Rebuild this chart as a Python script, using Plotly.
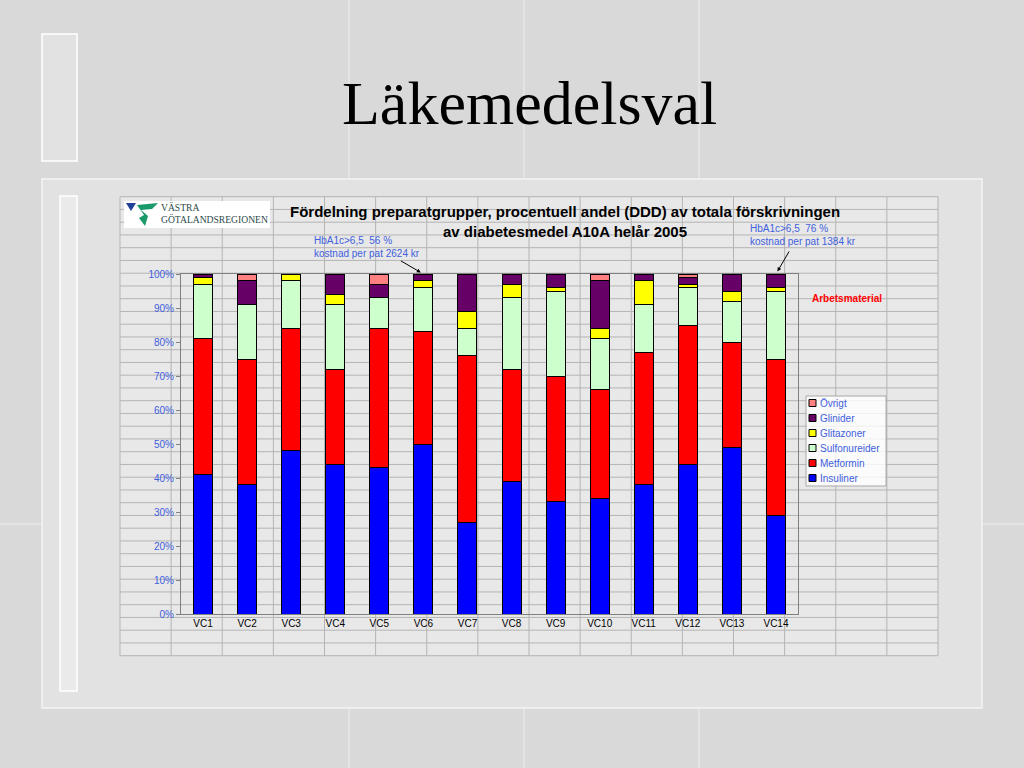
import plotly.graph_objects as go

# Vårdcentraler och andel (%) per preparatgrupp
vardcentraler = ['VC1', 'VC2', 'VC3', 'VC4', 'VC5', 'VC6', 'VC7',
                 'VC8', 'VC9', 'VC10', 'VC11', 'VC12', 'VC13', 'VC14']
insuliner     = [41, 38, 48, 44, 43, 50, 27, 39, 33, 34, 38, 44, 49, 29]
metformin     = [40, 37, 36, 28, 41, 33, 49, 33, 37, 32, 39, 41, 31, 46]
sulfonureider = [16, 16, 14, 19,  9, 13,  8, 21, 25, 15, 14, 11, 12, 20]
glitazoner    = [ 2,  0,  2,  3,  0,  2,  5,  4,  1,  3,  7,  1,  3,  1]
glinider      = [ 1,  7,  0,  6,  4,  2, 11,  3,  4, 14,  2,  2,  5,  4]
ovrigt        = [ 0,  2,  0,  0,  3,  0,  0,  0,  0,  2,  0,  1,  0,  0]

serier = [
    ('Insuliner', insuliner, '#0000ff'),
    ('Metformin', metformin, '#ff0000'),
    ('Sulfonureider', sulfonureider, '#ccffcc'),
    ('Glitazoner', glitazoner, '#ffff00'),
    ('Glinider', glinider, '#660066'),
    ('Övrigt', ovrigt, '#ff8080'),
]

# plotytans placering i pixlar
L, R, T, B = 181, 798, 274, 614
W, H = 1024, 768
BLA = '#3f60dd'


def px(x):
    return (x - L) / (R - L)


def py(y):
    return (B - y) / (B - T)


fig = go.Figure()
for namn, varden, farg in serier:
    fig.add_trace(go.Bar(
        x=vardcentraler, y=[v / 100 for v in varden], name=namn,
        marker=dict(color=farg, line=dict(color='#000000', width=1)),
    ))


def rect(x0, y0, x1, y1, fill, line_color=None, lw=0):
    return dict(type='rect', xref='paper', yref='paper', x0=px(x0), x1=px(x1),
                y0=py(y0), y1=py(y1), fillcolor=fill,
                line=dict(color=line_color or fill, width=lw), layer='below')


def line(x0, y0, x1, y1, color, lw=1):
    return dict(type='line', xref='paper', yref='paper', x0=px(x0), x1=px(x1),
                y0=py(y0), y1=py(y1), line=dict(color=color, width=lw), layer='below')


shapes = []
# marmorplattornas skarvar
for sx in [349, 524, 699]:
    shapes.append(line(sx, 0, sx, H, 'rgba(255,255,255,0.55)'))
shapes.append(line(0, 524, W, 524, 'rgba(255,255,255,0.55)'))
# ramar till vänster och runt diagrammet
shapes.append(rect(42, 34, 77, 161, 'rgba(235,235,235,0.5)', '#ffffff', 1.5))
shapes.append(rect(42, 179, 982, 708, '#e2e2e2', '#f4f4f4', 1.5))
shapes.append(rect(60, 196, 77, 691, 'rgba(240,240,240,0.6)', '#ffffff', 1.5))
# kalkylbladets rutnät
gx0, gx1, gy0, gy1 = 120, 938, 196.7, 655.7
shapes.append(rect(gx0, gy0, gx1, gy1, '#e8e8e8'))
for i in range(17):
    x = gx0 + (gx1 - gx0) * i / 16
    shapes.append(line(x, gy0, x, gy1, '#b4b4b4'))
for j in range(37):
    y = gy0 + (gy1 - gy0) * j / 36
    shapes.append(line(gx0, y, gx1, y, '#b4b4b4'))
# logotyp
shapes.append(rect(124, 201, 270, 228, '#ffffff'))
shapes.append(dict(type='path', xref='paper', yref='paper',
                   path=f'M {px(126)},{py(203)} L {px(136)},{py(203)} L {px(131)},{py(211)} Z',
                   fillcolor='#1f3f99', line=dict(width=0), layer='below'))
shapes.append(dict(type='path', xref='paper', yref='paper',
                   path=(f'M {px(137)},{py(205)} L {px(158)},{py(203)} L {px(152)},{py(209)} '
                         f'L {px(141)},{py(210)} L {px(148)},{py(216)} L {px(145)},{py(226)} '
                         f'L {px(139)},{py(218)} L {px(144)},{py(215)} Z'),
                   fillcolor='#1a9a6a', line=dict(width=0), layer='below'))

annotations = [
    dict(text='Läkemedelsval', x=px(529), y=py(103),
         font=dict(family='Liberation Serif', size=62, color='#000000')),
    dict(text='<b>Fördelning preparatgrupper, procentuell andel (DDD) av totala förskrivningen'
              '<br>av diabetesmedel A10A helår 2005</b>',
         x=px(565), y=py(221), font=dict(family='Liberation Sans', size=15, color='#000000')),
    dict(text='VÄSTRA<br>GÖTALANDSREGIONEN', x=px(159), y=py(213),
         xanchor='left', align='left',
         font=dict(family='Liberation Serif', size=9.6, color='#2b4a4a')),
    dict(text='HbA1c>6,5  56 %<br>kostnad per pat 2624 kr', x=px(312), y=py(247),
         xanchor='left', align='left', font=dict(family='Liberation Sans', size=10, color=BLA)),
    dict(text='HbA1c>6,5  76 %<br>kostnad per pat 1384 kr', x=px(748), y=py(235),
         xanchor='left', align='left', font=dict(family='Liberation Sans', size=10, color=BLA)),
    dict(text='<b>Arbetsmaterial</b>', x=px(847), y=py(298),
         font=dict(family='Liberation Sans', size=10, color='#ff0000')),
]
for a in annotations:
    a.update(xref='paper', yref='paper', showarrow=False, yanchor='middle')
    a.setdefault('xanchor', 'center')

# pilar mot VC6 och VC14
for vc, ax, ay in [('VC6', -24, -14), ('VC14', 14, -24)]:
    annotations.append(dict(text='', x=vc, y=1.0, xref='x', yref='y', ax=ax, ay=ay,
                            showarrow=True, arrowhead=2, arrowsize=0.8, standoff=3,
                            arrowwidth=1, arrowcolor='#000000'))

# teckenförklaring
lx0, ly0 = 806, 396
shapes.append(dict(type='rect', xref='paper', yref='paper', x0=px(lx0), x1=px(886),
                   y0=py(ly0), y1=py(486), fillcolor='rgba(255,255,255,0.8)',
                   line=dict(color='#a8a8a8', width=1), layer='above'))
for k, (namn, _, farg) in enumerate(reversed(serier)):
    yc = ly0 + 7 + 15 * k
    shapes.append(dict(type='rect', xref='paper', yref='paper', x0=px(809), x1=px(816),
                       y0=py(yc - 3.5), y1=py(yc + 3.5), fillcolor=farg,
                       line=dict(color='#000000', width=1), layer='above'))
    annotations.append(dict(text=namn, x=px(818), y=py(yc), xref='paper', yref='paper',
                            xanchor='left', yanchor='middle', showarrow=False,
                            font=dict(family='Liberation Sans', size=10, color=BLA)))

fig.update_layout(
    width=W, height=H,
    margin=dict(l=L, r=W - R, t=T, b=H - B, pad=0),
    barmode='stack', bargap=0.57,
    paper_bgcolor='#d9d9d9', plot_bgcolor='rgba(0,0,0,0)',
    font=dict(family='Liberation Sans', size=10, color='#000000'),
    showlegend=False,
    shapes=shapes, annotations=annotations,
)
fig.update_xaxes(showgrid=False, showline=True, linecolor='#808080', mirror=True,
                 ticks='', tickfont=dict(size=10, color='#000000'))
fig.update_yaxes(range=[0, 1], tickformat='.0%', dtick=0.1, showgrid=False,
                 showline=True, linecolor='#808080', mirror=True, ticks='outside',
                 ticklen=4, tickcolor='#808080', zeroline=False,
                 tickfont=dict(size=10, color=BLA))

fig.write_html('out.html', config={'displayModeBar': False},
               post_script="document.body.style.margin='0';")
